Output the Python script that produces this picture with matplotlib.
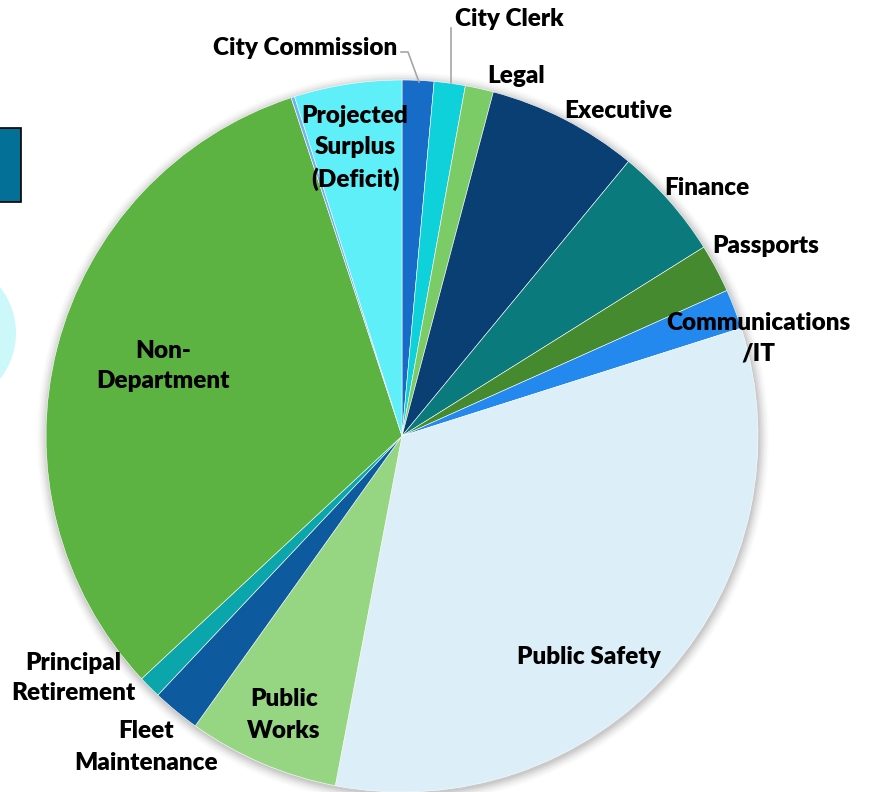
import matplotlib
matplotlib.use("Agg")
import matplotlib.pyplot as plt
from matplotlib.patches import Circle, Rectangle

# Budget share by department (percent of total)
departments = [
    "City Commission", "City Clerk", "Legal", "Executive", "Finance",
    "Passports", "Communications\n/IT", "Public Safety", "Public\nWorks",
    "Fleet\nMaintenance", "Principal\nRetirement", "Non-\nDepartment",
    "Other", "Projected\nSurplus\n(Deficit)",
]
shares = [1.44, 1.41, 1.28, 6.85, 5.12, 2.2, 1.8, 32.9, 6.86, 2.17, 1.03, 31.9, 0.16, 4.88]
colors = [
    "#166CC7", "#0ED1D9", "#7BCB66", "#0A3F74", "#0A7A7C",
    "#458A2E", "#2389EE", "#DCEEF8", "#96D682", "#0E5A9E",
    "#0BA6AB", "#5DB341", "#70B3F0", "#5EEFF8",
]

W, H = 869, 792
fig = plt.figure(figsize=(W / 100, H / 100), dpi=100)
ax = fig.add_axes([0, 0, 1, 1])

cx, cy, R = 402, H - 436, 356

# soft halo behind the pie
for i, a in enumerate([0.045, 0.04, 0.035, 0.03, 0.025, 0.02, 0.015]):
    ax.add_patch(Circle((cx + 1, cy - 2), R + 1 + 1.5 * i, color="black",
                        alpha=a, lw=0, zorder=0))

ax.pie(shares, colors=colors, startangle=90, counterclock=False,
       center=(cx, cy), radius=R,
       wedgeprops=dict(linewidth=0.4, edgecolor="white"))

# partial shapes at the left edge
ax.add_patch(Rectangle((-5, H - 202), 26, 74, facecolor="#037098",
                       edgecolor="black", lw=1.2, zorder=3))
ax.add_patch(Circle((-58, H - 333), 74, color="#CCF8FA", lw=0, zorder=0))

font = dict(family=["Lato", "DejaVu Sans"], fontweight="heavy",
            fontsize=17.5, color="black", zorder=5)

def lab(x, y, s, ha="center"):
    ax.text(x, H - y, s, ha=ha, va="center", linespacing=1.5, **font)

lab(397, 48, "City Commission", ha="right")
lab(455, 19, "City Clerk", ha="left")
lab(516, 76, "Legal")
lab(618, 111, "Executive")
lab(707, 188, "Finance")
lab(766, 246, "Passports")
lab(758, 338, "Communications\n/IT")
lab(589, 657, "Public Safety")
lab(284, 715, "Public\nWorks")
lab(146, 747, "Fleet\nMaintenance")
lab(73, 678, "Principal\nRetirement")
lab(163, 366, "Non-\nDepartment")
lab(355, 148, "Projected\nSurplus\n(Deficit)")

# leader lines
lc = "#A6A6A6"
ax.plot([401, 408, 419], [H - 52, H - 52, H - 82], color=lc, lw=1.2, zorder=4)
ax.plot([451, 451], [H - 28, H - 83], color=lc, lw=1.2, zorder=4)

ax.set_xlim(0, W)
ax.set_ylim(0, H)
ax.set_aspect("equal")
ax.axis("off")
fig.savefig("out.png", dpi=100)
